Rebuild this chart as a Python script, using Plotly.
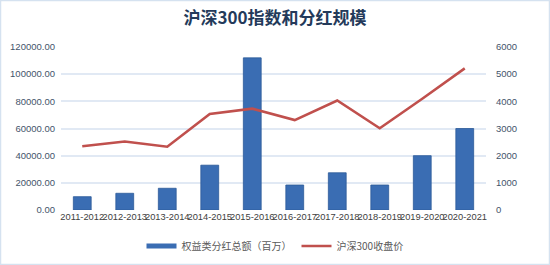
import plotly.graph_objects as go

categories = ["2011-2012", "2012-2013", "2013-2014", "2014-2015", "2015-2016",
              "2016-2017", "2017-2018", "2018-2019", "2019-2020", "2020-2021"]
dividends = [9800, 12300, 16000, 33000, 112000, 18400, 27400, 18400, 40000, 60000]
csi300 = [2345, 2523, 2330, 3533, 3731, 3310, 4030, 3010, 4096, 5211]

W, H = 550, 265
L, R, T, B = 61, 64, 47, 55

fig = go.Figure()
fig.add_trace(go.Bar(
    x=categories, y=dividends, name="权益类分红总额（百万）",
    marker=dict(color="#3A6DB3", line=dict(color="#2C5A98", width=0.8)),
    yaxis="y", showlegend=False, legendgroup="a",
))
# legend entry shaped like the reference's wide blue bar symbol
fig.add_trace(go.Scatter(
    x=[None], y=[None], name="权益类分红总额（百万）", mode="lines",
    line=dict(color="#3A6DB3", width=5), legendgroup="a",
))
fig.add_trace(go.Scatter(
    x=categories, y=csi300, name="沪深300收盘价", mode="lines",
    line=dict(color="#C0504D", width=2.6), yaxis="y2",
))

pw = W - L - R
ph = H - T - B
x0 = -L / pw
x1 = (W - L) / pw
y0 = -B / ph
y1 = (H - B) / ph

fig.update_layout(
    width=W, height=H,
    margin=dict(l=L, r=R, t=T, b=B, autoexpand=False),
    paper_bgcolor="white", plot_bgcolor="white",
    title=dict(text="<b>沪深300指数和分红规模</b>", x=0.5, xanchor="center",
               y=1 - 18 / H, yanchor="middle",
               font=dict(family="Noto Sans CJK SC", size=17, color="#243A5A")),
    bargap=0.58,
    showlegend=True,
    legend=dict(orientation="h", x=0.5, xanchor="center", xref="container",
                y=1 - 246 / H, yref="container", yanchor="middle",
                font=dict(family="Noto Sans CJK SC", size=10, color="#595959"),
                itemwidth=30, tracegroupgap=0),
    xaxis=dict(tickfont=dict(family="Liberation Sans", size=9.3, color="#404040"),
               showgrid=False, showline=False, ticks="", tickangle=0),
    yaxis=dict(range=[0, 120000], dtick=20000, tickformat=".2f",
               tickfont=dict(family="Liberation Sans", size=9.5, color="#44546A"),
               gridcolor="#E1E9F4", gridwidth=1.5, zeroline=False, showline=False,
               ticks="", ticklabelstandoff=5),
    yaxis2=dict(range=[0, 6000], dtick=1000, overlaying="y", side="right",
                tickfont=dict(family="Liberation Sans", size=9.5, color="#44546A"),
                showgrid=False, zeroline=False, showline=False, ticklabelstandoff=9),
    shapes=[dict(type="rect", xref="paper", yref="paper",
                 x0=x0 + 0.5 / pw, x1=x1 - 0.5 / pw, y0=y0 + 0.5 / ph, y1=y1 - 0.5 / ph,
                 line=dict(color="#D5E2F0", width=1.5), layer="below")],
)

fig.write_html("out.html")
